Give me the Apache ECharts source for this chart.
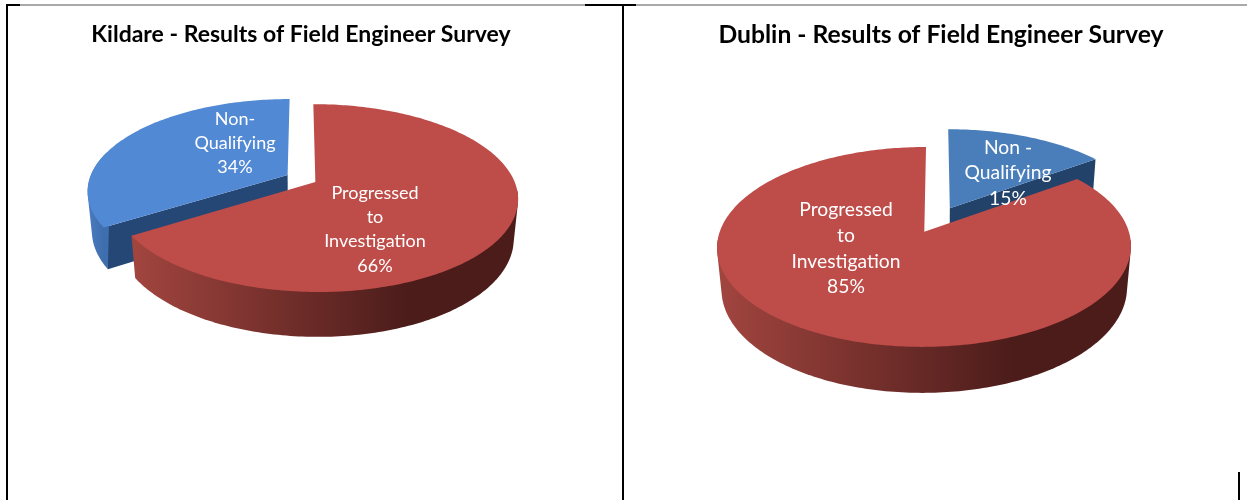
<!DOCTYPE html>
<html>
<head>
<meta charset="utf-8">
<style>
	html, body { margin: 0; padding: 0; background: #fff; }
	#main { width: 1247px; height: 500px; }
</style>
<script src="https://cdn.jsdelivr.net/npm/echarts@6/dist/echarts.min.js"></script>
</head>
<body>
<div id="main"></div>
<script>
// data
const kildareNames = ['Progressed\nto\nInvestigation', 'Non-\nQualifying'];
const kildareValues = [66, 34];
const dublinNames = ['Non -\nQualifying', 'Progressed\nto\nInvestigation'];
const dublinValues = [15, 85];
const chartTitles = ['Kildare - Results of Field Engineer Survey', 'Dublin - Results of Field Engineer Survey'];

const redStyle = {
	top: '#BE4C49',
	face: '#7A2E2B',
	wall: ['#A2453F', '#4B1C1A', '#4B1C1A']
};

// each pie is a tilted disc seen in perspective:
// r, c = disc radius across and along the view, k = perspective strength,
// h, m = height of the wall and how much the lower rim shrinks, explode = gap of the slices
// wallTo = where the wall stops on the left side of the rim
const kildare = {
	cx: 301.4, cy: 178.5, r: 198, c: 90, k: 0.17, h: 40.1, m: 0.02, explode: 0.08, wallTo: 285,
	names: kildareNames,
	values: kildareValues,
	styles: [redStyle, { top: '#5289D4', face: '#254775', wall: ['#4A7CC0', '#3F6EAE', '#3F6EAE'] }],
	labels: [[375, 229.5], [235, 143]],
	fontSize: 18,
	lineHeight: 24.3
};
const dublin = {
	cx: 937.3, cy: 219.7, r: 200.7, c: 94, k: 0.15, h: 41.7, m: 0.02, explode: 0.14, wallTo: 265,
	names: dublinNames,
	values: dublinValues,
	styles: [{ top: '#4A7EBB', face: '#23426A', wall: ['#23426A', '#23426A', '#23426A'] }, redStyle],
	labels: [[1008, 173], [846, 248.5]],
	fontSize: 19.3,
	lineHeight: 25.6
};

function rad(deg) {
	return (deg * Math.PI) / 180;
}

function project(pie, x, y, z) {
	const w = 1 + pie.k * y + pie.m * z;
	return [pie.cx + (pie.r * x) / w, pie.cy + (-pie.c * y + pie.h * z) / w];
}

// outline of the wall, so its sides run tangent from the upper to the lower rim
function convexHull(points) {
	const pts = points.slice().sort((a, b) => a[0] - b[0] || a[1] - b[1]);
	const cross = (o, a, b) => (a[0] - o[0]) * (b[1] - o[1]) - (a[1] - o[1]) * (b[0] - o[0]);
	const half = (list) => {
		const out = [];
		list.forEach((p) => {
			while (out.length > 1 && cross(out[out.length - 2], out[out.length - 1], p) <= 0) {
				out.pop();
			}
			out.push(p);
		});
		out.pop();
		return out;
	};
	return half(pts).concat(half(pts.slice().reverse()));
}

function renderSlice(pie, params) {
	const i = params.dataIndex;
	const total = pie.values[0] + pie.values[1];
	const before = i === 0 ? 0 : pie.values[0];
	const start = (before / total) * 360;
	const end = ((before + pie.values[i]) / total) * 360;
	const mid = rad((start + end) / 2);
	const ox = Math.sin(mid) * pie.explode;
	const oy = Math.cos(mid) * pie.explode;
	const style = pie.styles[i];
	// slices further back are painted first
	const base = Math.cos(mid) > 0 ? 1 : 10;

	const rim = (deg, z) => project(pie, ox + Math.sin(rad(deg)), oy + Math.cos(rad(deg)), z);
	const arc = (from, to, z) => {
		const pts = [];
		const steps = Math.max(2, Math.ceil(to - from));
		for (let s = 0; s <= steps; s++) {
			pts.push(rim(from + ((to - from) * s) / steps, z));
		}
		return pts;
	};

	const children = [];

	// cut faces, only the ones turned to the viewer
	[
		[start, Math.sin(rad(start))],
		[end, -Math.sin(rad(end))]
	].forEach(([deg, normalY]) => {
		if (normalY < -0.01) {
			children.push({
				type: 'polygon',
				z2: base,
				shape: { points: [project(pie, ox, oy, 0), rim(deg, 0), rim(deg, 1), project(pie, ox, oy, 1)] },
				style: { fill: style.face }
			});
		}
	});

	// outer wall, the part of the rim near the viewer; the top face hides the rest of the hull
	const from = Math.max(start, 95);
	const to = Math.min(end, pie.wallTo);
	if (to > from) {
		children.push({
			type: 'polygon',
			z2: base + 1,
			shape: { points: convexHull(arc(from, to, 0).concat(arc(from, to, 1))) },
			style: {
				fill: new echarts.graphic.LinearGradient(0, 0, 1, 0, [
					{ offset: 0, color: style.wall[0] },
					{ offset: 0.72, color: style.wall[1] },
					{ offset: 1, color: style.wall[2] }
				])
			}
		});
	}

	// top of the slice
	children.push({
		type: 'polygon',
		z2: base + 2,
		shape: { points: [project(pie, ox, oy, 0)].concat(arc(start, end, 0)) },
		style: { fill: style.top }
	});

	children.push({
		type: 'text',
		z2: 50,
		x: pie.labels[i][0],
		y: pie.labels[i][1],
		style: {
			text: pie.names[i] + '\n' + Math.round((pie.values[i] / total) * 100) + '%',
			fill: '#fff',
			fontFamily: 'Lato',
			fontSize: pie.fontSize,
			lineHeight: pie.lineHeight,
			align: 'center',
			verticalAlign: 'middle'
		}
	});

	return { type: 'group', children };
}

function pieSeries(pie) {
	return {
		type: 'custom',
		coordinateSystem: 'none',
		silent: true,
		data: pie.values,
		renderItem: (params) => renderSlice(pie, params)
	};
}

const myChart = echarts.init(document.getElementById('main'));

const titleStyle = { color: '#000', fontFamily: 'Lato', fontWeight: 'bold' };

// frame of the table the two charts sit in
const frame = [
	{ x1: 7, y1: 5, x2: 1247, y2: 5, width: 1, color: '#555' },
	{ x1: 6, y1: 5, x2: 20, y2: 5, width: 2, color: '#000' },
	{ x1: 585, y1: 5, x2: 636, y2: 5, width: 2, color: '#000' },
	{ x1: 7, y1: 5, x2: 7, y2: 500, width: 2, color: '#000' },
	{ x1: 623, y1: 5, x2: 623, y2: 500, width: 2, color: '#000' },
	{ x1: 1239, y1: 472, x2: 1239, y2: 500, width: 2, color: '#000' }
];

myChart.setOption({
	animation: false,
	backgroundColor: '#fff',
	title: [
		{ text: chartTitles[0], left: 301, top: 23, textAlign: 'center', padding: 0, textStyle: { ...titleStyle, fontSize: 23 } },
		{ text: chartTitles[1], left: 941, top: 23, textAlign: 'center', padding: 0, textStyle: { ...titleStyle, fontSize: 24.7 } }
	],
	graphic: frame.map((l) => {
		return {
			type: 'line',
			silent: true,
			shape: { x1: l.x1, y1: l.y1, x2: l.x2, y2: l.y2 },
			style: { stroke: l.color, lineWidth: l.width }
		};
	}),
	series: [pieSeries(kildare), pieSeries(dublin)]
});
</script>
</body>
</html>
